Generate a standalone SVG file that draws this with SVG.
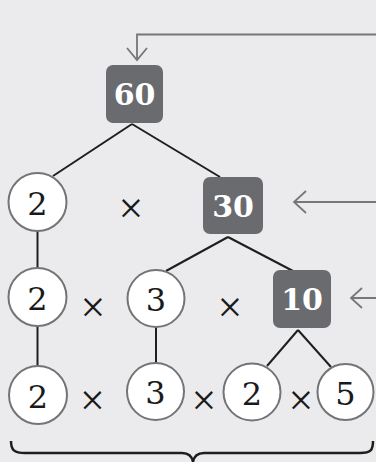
<svg xmlns="http://www.w3.org/2000/svg" width="376" height="462" viewBox="0 0 376 462">
  <style>
    .box { fill: #6a6b6f; }
    .box-label { font-family: "DejaVu Serif", "Liberation Serif", serif; font-weight: bold; font-size: 30px; fill: #ffffff; text-anchor: middle; }
    .leaf { fill: #ffffff; stroke: #737477; stroke-width: 2; }
    .leaf-label { font-family: "DejaVu Serif", "Liberation Serif", serif; font-size: 32px; fill: #1a1a1a; text-anchor: middle; }
    .times { font-family: "Liberation Serif", serif; font-size: 44px; fill: #1a1a1a; text-anchor: middle; }
    .edge { stroke: #1e1e1e; stroke-width: 2; fill: none; }
    .pointer { stroke: #777779; stroke-width: 1.8; fill: none; }
    .brace { stroke: #1e1e1e; stroke-width: 2.5; fill: none; }
  </style>

  <rect width="376" height="462" fill="#ebebed"/>

  <!-- tree edges -->
  <g id="connectors">
    <line class="edge" x1="132" y1="124" x2="53" y2="176"/>
    <line class="edge" x1="132" y1="124" x2="220" y2="177"/>
    <line class="edge" x1="37.5" y1="231" x2="37.5" y2="268"/>
    <line class="edge" x1="228" y1="237" x2="166" y2="271"/>
    <line class="edge" x1="228" y1="237" x2="293" y2="271"/>
    <line class="edge" x1="37.5" y1="326" x2="37.5" y2="367"/>
    <line class="edge" x1="156" y1="327" x2="156" y2="363"/>
    <line class="edge" x1="298" y1="330" x2="267" y2="366"/>
    <line class="edge" x1="298" y1="330" x2="331" y2="367"/>

    <!-- pointers from the right edge -->
    <path class="pointer" d="M376,34.5 H137 V60 M127,48 L137,60 L147,48"/>
    <path class="pointer" d="M376,202 H294 M306,191 L294,202 L306,213"/>
    <path class="pointer" d="M376,298 H351 M362,288 L351,298 L362,308"/>
  </g>

  <!-- composite factors -->
  <g id="n60">
    <rect class="box" x="106" y="65" width="57" height="58" rx="7"/>
    <text class="box-label" x="134.5" y="105">60</text>
  </g>
  <g id="n30">
    <rect class="box" x="203" y="177" width="60" height="57" rx="7"/>
    <text class="box-label" x="233" y="216.5">30</text>
  </g>
  <g id="n10">
    <rect class="box" x="273" y="270" width="58" height="58" rx="7"/>
    <text class="box-label" x="302" y="310">10</text>
  </g>

  <!-- row 1 -->
  <g id="r1-2">
    <circle class="leaf" cx="37.5" cy="202" r="29"/>
    <text class="leaf-label" x="37.5" y="214.5">2</text>
  </g>
  <g id="r1-x">
    <text class="times" x="131" y="222.5">×</text>
  </g>

  <!-- row 2 -->
  <g id="r2-2">
    <circle class="leaf" cx="37.5" cy="297" r="29"/>
    <text class="leaf-label" x="37.5" y="309.5">2</text>
  </g>
  <g id="r2-3">
    <circle class="leaf" cx="156" cy="298.5" r="28.5"/>
    <text class="leaf-label" x="156" y="311">3</text>
  </g>
  <g id="r2-x">
    <text class="times" x="93" y="321.5">×</text>
    <text class="times" x="230" y="321.5">×</text>
  </g>

  <!-- row 3 -->
  <g id="r3-2a">
    <circle class="leaf" cx="38" cy="395" r="29"/>
    <text class="leaf-label" x="38" y="407.5">2</text>
  </g>
  <g id="r3-3">
    <circle class="leaf" cx="155.5" cy="391.5" r="28.5"/>
    <text class="leaf-label" x="155.5" y="404">3</text>
  </g>
  <g id="r3-2b">
    <circle class="leaf" cx="252" cy="392" r="28.5"/>
    <text class="leaf-label" x="252" y="404.5">2</text>
  </g>
  <g id="r3-5">
    <circle class="leaf" cx="345.5" cy="392" r="28"/>
    <text class="leaf-label" x="345.5" y="404.5">5</text>
  </g>
  <g id="r3-x">
    <text class="times" x="92.5" y="414.5">×</text>
    <text class="times" x="204" y="414.5">×</text>
    <text class="times" x="301" y="414.5">×</text>
  </g>

  <!-- brace under the bottom row -->
  <g id="brace">
    <path class="brace" d="M11,441 C11,450 14,453 25,453 L182,453 C189,453 192,456 193,462 C194,456 197,453 204,453 L360,453 C371,453 373,450 373,441"/>
  </g>
</svg>
